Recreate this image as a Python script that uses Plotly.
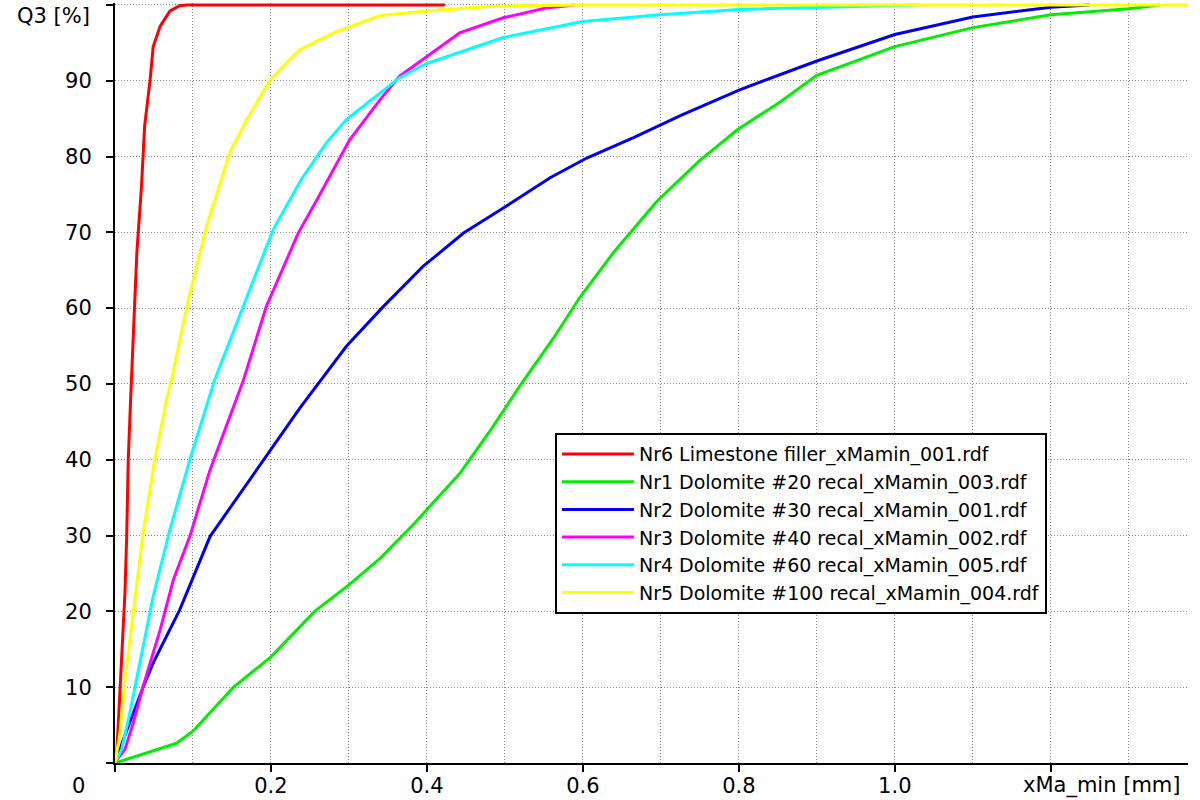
import plotly.graph_objects as go

# cumulative distributions Q3 [%] vs xMa_min [mm]
nr6_x = [0, 0.002, 0.0043, 0.0085, 0.0128, 0.015, 0.017, 0.020, 0.0235, 0.028, 0.034, 0.038,
         0.045, 0.049, 0.058, 0.0705, 0.083, 0.092, 0.423]
nr6_q = [0, 0.9, 5.3, 14.5, 22.5, 30, 40, 47.9, 55.9, 67.3, 76.1, 84,
         90.1, 94.5, 97.2, 99.2, 99.9, 100, 100]

nr1_x = [0, 0.015, 0.04, 0.079, 0.1, 0.152, 0.2, 0.256, 0.3, 0.34, 0.383, 0.443, 0.481, 0.519,
         0.562, 0.596, 0.639, 0.695, 0.75, 0.799, 0.853, 0.9, 1.0, 1.1, 1.2, 1.3, 1.34]
nr1_q = [0, 0.5, 1.3, 2.6, 4.2, 10, 14, 20, 23.5, 27, 31.5, 38.3, 43.8, 49.7,
         56, 61.4, 67.3, 74.1, 79.5, 83.6, 87.2, 90.7, 94.5, 97.0, 98.7, 99.5, 100]

nr2_x = [0, 0.002, 0.0107, 0.0235, 0.036, 0.049, 0.083, 0.122, 0.152, 0.194, 0.237, 0.297, 0.344,
         0.395, 0.447, 0.498, 0.558, 0.605, 0.665, 0.725, 0.801, 0.9, 1.0, 1.1, 1.2, 1.25]
nr2_q = [0, 0.4, 3.1, 6.6, 10, 13.2, 20.2, 29.9, 34.3, 40.4, 46.8, 55.0, 60.2,
         65.5, 69.9, 73.2, 77.2, 79.8, 82.5, 85.4, 88.8, 92.6, 96.1, 98.4, 99.7, 100]

nr3_x = [0, 0.002, 0.0128, 0.0235, 0.036, 0.058, 0.075, 0.096, 0.122, 0.165, 0.194, 0.235, 0.259,
         0.282, 0.301, 0.34, 0.365, 0.4, 0.442, 0.498, 0.553, 0.59]
nr3_q = [0, 0.4, 1.8, 5.3, 10.1, 17.6, 24.2, 29.9, 38.7, 50.6, 60.2, 69.9, 74.3,
         78.7, 82.2, 87.5, 90.6, 93.2, 96.3, 98.3, 99.6, 100]

nr4_x = [0, 0.0086, 0.019, 0.032, 0.049, 0.0705, 0.096, 0.128, 0.173, 0.203, 0.239, 0.271, 0.297,
         0.329, 0.365, 0.4, 0.498, 0.6, 0.699, 0.801, 0.9, 1.03]
nr4_q = [0, 1.8, 6.6, 13.2, 22, 30.8, 40, 50.6, 62.4, 70.4, 77.0, 81.8, 84.9,
         87.5, 90.4, 92.3, 95.7, 97.8, 98.7, 99.4, 99.7, 100]

nr5_x = [0, 0.0064, 0.0128, 0.0235, 0.036, 0.051, 0.066, 0.0726, 0.094, 0.1175, 0.147, 0.169,
         0.199, 0.224, 0.237, 0.28, 0.34, 0.4, 0.48, 0.6, 1.376]
nr5_q = [0, 4, 11, 19.8, 30.3, 40, 47.9, 50.6, 61.1, 70.8, 80.5, 84.9,
         90.1, 92.8, 94.1, 96.3, 98.6, 99.2, 99.8, 100, 100]

names = ['Nr6 Limestone filler_xMamin_001.rdf',
         'Nr1 Dolomite #20 recal_xMamin_003.rdf',
         'Nr2 Dolomite #30 recal_xMamin_001.rdf',
         'Nr3 Dolomite #40 recal_xMamin_002.rdf',
         'Nr4 Dolomite #60 recal_xMamin_005.rdf',
         'Nr5 Dolomite #100 recal_xMamin_004.rdf']
colors = ['#ff0000', '#00ee00', '#0000ee', '#ff00ff', '#00ffff', '#ffff00']
xs = [nr6_x, nr1_x, nr2_x, nr3_x, nr4_x, nr5_x]
qs = [nr6_q, nr1_q, nr2_q, nr3_q, nr4_q, nr5_q]

x_ticks = [0, 0.2, 0.4, 0.6, 0.8, 1.0, 1.2]
x_ticktext = ['', '0.2', '0.4', '0.6', '0.8', '1.0', '']
y_ticks = [0, 10, 20, 30, 40, 50, 60, 70, 80, 90, 100]
y_ticktext = [''] + [str(v) for v in y_ticks[1:-1]] + ['']

XMAX = 1.376
YMAX = 100.25
FONT = 'DejaVu Sans'

fig = go.Figure()
for i in range(6):
    fig.add_trace(go.Scatter(
        x=xs[i], y=qs[i], mode='lines', name=names[i],
        line=dict(color=colors[i], width=3)))

"""---------- FORMATTING ----------"""
fig.update_layout(
    width=1200, height=800,
    margin=dict(l=115, r=12, t=3, b=37, autoexpand=False),
    paper_bgcolor='white', plot_bgcolor='white',
    font=dict(family=FONT, size=21, color='black'),
    showlegend=True,
    legend=dict(
        x=0.41, y=0.434, xanchor='left', yanchor='top',
        bgcolor='white', bordercolor='black', borderwidth=2,
        font=dict(family=FONT, size=19),
        itemwidth=72, tracegroupgap=0),
    xaxis=dict(
        range=[0, XMAX], tickvals=x_ticks, ticktext=x_ticktext,
        ticks='outside', ticklen=7, tickwidth=2, tickcolor='black',
        showline=True, linecolor='black', linewidth=2,
        showgrid=False, zeroline=False, automargin=False,
        minor=dict(dtick=0.1, tick0=0, showgrid=True, gridcolor='#888888',
                   griddash='1px,2px', gridwidth=1, ticks=''),
        ticklabelstandoff=-4),
    yaxis=dict(
        range=[0, YMAX], tickvals=y_ticks, ticktext=y_ticktext,
        ticks='outside', ticklen=7, tickwidth=2, tickcolor='black',
        showline=True, linecolor='black', linewidth=2, automargin=False,
        showgrid=True, gridcolor='#888888', griddash='1px,2px', gridwidth=1,
        zeroline=False, ticklabelstandoff=10),
    # second pair of axes only to get ticks that cross the axis lines
    xaxis2=dict(
        overlaying='x', anchor='y', side='bottom', range=[0, XMAX], tickvals=x_ticks,
        ticks='inside', ticklen=7, tickwidth=2, tickcolor='black', automargin=False,
        showticklabels=False, showgrid=False, showline=False, zeroline=False),
    yaxis2=dict(
        overlaying='y', anchor='x', side='left', range=[0, YMAX], tickvals=y_ticks,
        ticks='inside', ticklen=7, tickwidth=2, tickcolor='black', automargin=False,
        showticklabels=False, showgrid=False, showline=False, zeroline=False),
)

fig.add_annotation(text='Q3 [%]', xref='paper', yref='paper', x=-0.093, y=0.983,
                   xanchor='left', yanchor='middle', showarrow=False,
                   font=dict(family=FONT, size=21))
fig.add_annotation(text='xMa_min [mm]', xref='paper', yref='paper', x=0.995, y=-0.03,
                   xanchor='right', yanchor='middle', showarrow=False,
                   font=dict(family=FONT, size=21))
fig.add_annotation(text='0', xref='paper', yref='paper', x=-0.034, y=-0.03,
                   xanchor='center', yanchor='middle', showarrow=False,
                   font=dict(family=FONT, size=21))

# the page body has a default 8px margin; drop it so the figure fills the window
fig.write_html('out.html', config={'displayModeBar': False},
               post_script="document.body.style.margin='0px';")
